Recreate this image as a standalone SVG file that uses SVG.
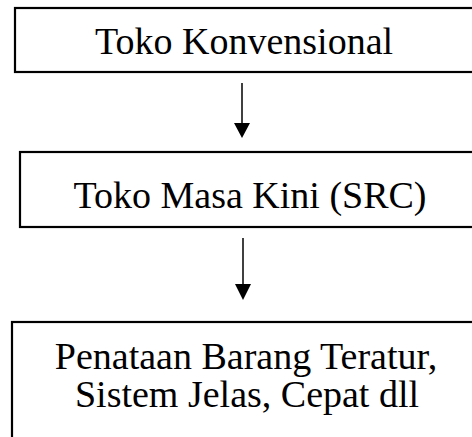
<svg xmlns="http://www.w3.org/2000/svg" width="472" height="437" viewBox="0 0 472 437">
  <style>
    .box { fill: #ffffff; stroke: #000000; stroke-width: 2.2; }
    .label { font-family: "Liberation Serif", "Times New Roman", serif; font-size: 38px; fill: #000000; text-anchor: middle; }
    .conn { stroke: #000000; stroke-width: 1.5; fill: none; }
    .head { fill: #000000; stroke: none; }
  </style>
  <rect width="472" height="437" fill="#ffffff"/>

  <g id="node-konvensional">
    <rect class="box" x="15" y="8" width="470" height="64"/>
    <text class="label" x="244" y="54">Toko Konvensional</text>
  </g>

  <g id="node-masa-kini">
    <rect class="box" x="20" y="152" width="470" height="75"/>
    <text class="label" x="250" y="208">Toko Masa Kini (SRC)</text>
  </g>

  <g id="node-penataan">
    <rect class="box" x="12" y="322" width="475" height="130"/>
    <text class="label" x="246" y="369">Penataan Barang Teratur,</text>
    <text class="label" x="247" y="407">Sistem Jelas, Cepat dll</text>
  </g>

  <g id="connectors">
    <line class="conn" x1="242" y1="83" x2="242" y2="124"/>
    <polygon class="head" points="234,123 250,123 242,138"/>
    <line class="conn" x1="243" y1="238" x2="243" y2="285"/>
    <polygon class="head" points="235,284 251,284 243,300"/>
  </g>
</svg>
